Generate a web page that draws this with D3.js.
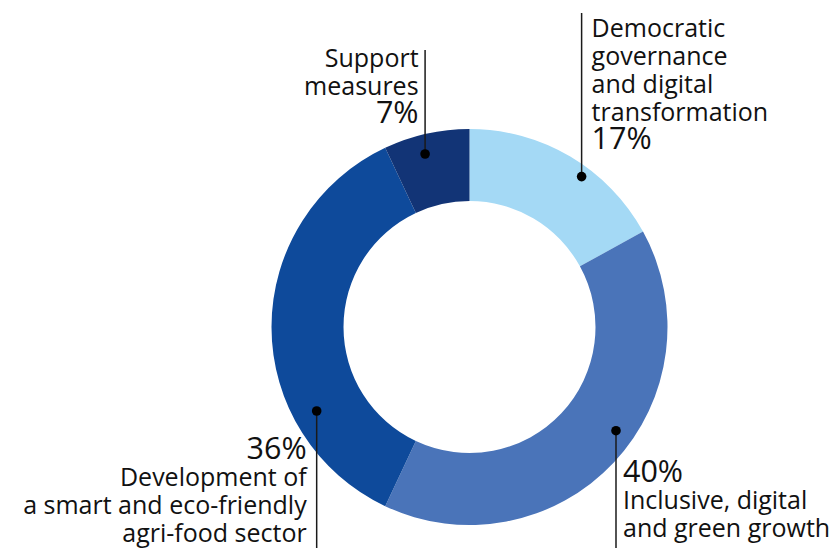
<!DOCTYPE html>
<html>
<head>
<meta charset="utf-8">
<script src="https://cdn.jsdelivr.net/npm/d3@7"></script>
<style>
  body { margin: 0; background: #fff; }
  svg { display: block; font-family: "Open Sans", sans-serif; }
</style>
</head>
<body>
<script>
// shares of the programme, clockwise from 12 o'clock
const categories = ["Democratic governance and digital transformation",
                    "Inclusive, digital and green growth",
                    "Development of a smart and eco-friendly agri-food sector",
                    "Support measures"];
const shares = [17, 40, 36, 7];
const labelLines = [
    ["Democratic", "governance", "and digital", "transformation"],
    ["Inclusive, digital", "and green growth"],
    ["Development of", "a smart and eco-friendly", "agri-food sector"],
    ["Support", "measures"]
];
const colors = ["#a4d9f5", "#4a74b9", "#0e4a9b", "#123476"];

let width = 839;
let height = 548;
let cx = 469.5, cy = 327;
let outerR = 198, innerR = 126;

// callout layout: dot angle/radius, leader end, text side, where the block starts
let callouts = [
    { angle: 36.7, r: 187.6, lineEnd: 13, side: "right", dx: 10, y0: 36.7, pctFirst: false },
    { angle: 125.3, r: 179.5, lineEnd: 548, side: "right", dx: 7, y0: 481.7, pctFirst: true },
    { angle: 241.2, r: 174.4, lineEnd: 548, side: "left", dx: -10, y0: 459.3, pctFirst: true },
    { angle: 345.6, r: 178.6, lineEnd: 50, side: "left", dx: -6.5, y0: 66.7, pctFirst: false }
];

const svg = d3.select("body").append("svg")
    .attr("width", width)
    .attr("height", height)
    .attr("viewBox", [0, 0, width, height]);

const pie = d3.pie().sort(null).value(d => d)(shares);
const arc = d3.arc().innerRadius(innerR).outerRadius(outerR);

const g = svg.append("g").attr("transform", `translate(${cx},${cy})`);

g.selectAll("path")
    .data(pie)
    .join("path")
    .attr("fill", (d, i) => colors[i])
    .attr("d", arc);

const bodySize = 25, pctSize = 30.5, step = 28;

callouts.forEach(function (c, i) {
    let [px, py] = d3.pointRadial(c.angle * Math.PI / 180, c.r);
    px += cx; py += cy;

    svg.append("line")
        .attr("x1", px).attr("x2", px)
        .attr("y1", py).attr("y2", c.lineEnd)
        .attr("stroke", "#1a1a1a")
        .attr("stroke-width", 1.5);

    svg.append("circle")
        .attr("cx", px).attr("cy", py)
        .attr("r", 4.8)
        .attr("fill", "#000");

    let rows = labelLines[i].map(t => ({ t: t, size: bodySize }));
    let pct = { t: shares[i] + "%", size: pctSize };
    if (c.pctFirst) rows.unshift(pct); else rows.push(pct);

    const text = svg.append("text")
        .attr("text-anchor", c.side === "right" ? "start" : "end")
        .attr("fill", "#111");

    let y = c.y0;
    rows.forEach(function (row, j) {
        if (j > 0) {
            // the percentage sits a little further from the body text
            y += (c.pctFirst && j === 1) ? step - 1 : (row.size === pctSize ? step + 0.5 : step);
        }
        text.append("tspan")
            .attr("x", px + c.dx)
            .attr("y", y)
            .attr("font-size", row.size)
            .text(row.t);
    });
});
</script>
</body>
</html>
